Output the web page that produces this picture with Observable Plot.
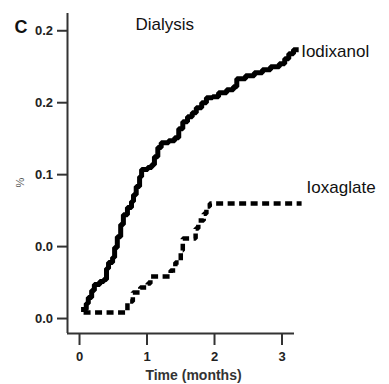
<!DOCTYPE html>
<html>
<head>
<meta charset="utf-8">
<script src="https://cdn.jsdelivr.net/npm/d3@7"></script>
<script src="https://cdn.jsdelivr.net/npm/@observablehq/plot@0.6"></script>
<style>
  html, body { margin: 0; padding: 0; background: #fff; }
  #chart { position: relative; width: 389px; height: 384px; }
</style>
</head>
<body>
<div id="chart"></div>
<script>
// ---- data ----
const iodixanolTime = [0.06,0.10,0.13,0.18,0.22,0.30,0.36,0.40,0.43,0.49,0.52,0.56,0.61,0.65,0.71,0.77,0.80,0.84,0.89,0.92,1.01,1.07,1.11,1.16,1.21,1.32,1.41,1.47,1.53,1.60,1.67,1.73,1.81,1.88,1.97,2.06,2.18,2.28,2.33,2.46,2.59,2.71,2.83,2.96,3.04,3.10,3.17,3.21];
const iodixanolValue = [0.0063,0.0104,0.0146,0.0194,0.0236,0.0257,0.0271,0.0347,0.0389,0.0424,0.0493,0.0569,0.0653,0.0722,0.0771,0.0813,0.0861,0.0917,0.0986,0.1035,0.1049,0.1069,0.1125,0.1188,0.1222,0.1236,0.1257,0.1319,0.1368,0.1403,0.1431,0.1465,0.1500,0.1535,0.1542,0.1569,0.1590,0.1611,0.1667,0.1688,0.1708,0.1729,0.1750,0.1771,0.1806,0.1840,0.1868,0.1868];
const ioxaglateTime = [0.06,0.71,0.79,0.90,1.01,1.05,1.35,1.42,1.50,1.53,1.72,1.76,1.84,1.88,1.93,3.29];
const ioxaglateValue = [0.0042,0.0118,0.0181,0.0215,0.0243,0.0292,0.0333,0.0389,0.0472,0.0556,0.0625,0.0681,0.0729,0.0778,0.0799,0.0799];
const seriesNames = ["Iodixanol", "Ioxaglate"];
const yTickValues = [0, 0.05, 0.10, 0.15, 0.20];
const yTickLabels = ["0.0", "0.0", "0.1", "0.2", "0.2"];
const xTickValues = [0, 1, 2, 3];
const xTickLabels = ["0", "1", "2", "3"];
const panelLetter = "C";
const panelTitle = "Dialysis";
const xLabel = "Time (months)";
const yLabel = "%";

const iodixanol = iodixanolTime.map((t, i) => ({t, v: iodixanolValue[i]}));
const ioxaglate = ioxaglateTime.map((t, i) => ({t, v: ioxaglateValue[i]}));
const xDomain = [-0.178, 3.185];
const yDomain = [-0.0104, 0.2120];

const font = "'Liberation Sans', Arial, Helvetica, sans-serif";

const plot = Plot.plot({
  width: 389,
  height: 384,
  marginLeft: 67,
  marginRight: 95,
  marginTop: 13,
  marginBottom: 51,
  style: {fontFamily: font, fontSize: "12px", color: "#222", background: "#fff", overflow: "visible"},
  x: {domain: xDomain},
  y: {domain: yDomain},
  marks: [
    // L-shaped axes
    Plot.ruleX([xDomain[0]], {y1: yDomain[0], y2: yDomain[1], stroke: "#333", strokeWidth: 2}),
    Plot.ruleY([yDomain[0]], {x1: xDomain[0], x2: xDomain[1], stroke: "#333", strokeWidth: 2}),
    Plot.axisY({ticks: yTickValues, tickFormat: () => "", tickSize: 10, strokeWidth: 2, stroke: "#333", label: null}),
    Plot.axisX({ticks: xTickValues, tickFormat: () => "", tickSize: 12, strokeWidth: 2, stroke: "#333", label: null}),
    // tick labels
    Plot.text(yTickValues, {x: () => xDomain[0], y: d => d, text: (d, i) => yTickLabels[i],
      textAnchor: "end", dx: -14.5, fontSize: 13, fontWeight: "bold", fill: "#222"}),
    Plot.text(xTickValues, {x: d => d, y: () => yDomain[0], text: (d, i) => xTickLabels[i],
      lineAnchor: "top", dy: 18, fontSize: 13, fontWeight: "bold", fill: "#222"}),
    // curves
    Plot.line(iodixanol, {x: "t", y: "v", curve: "step-after", stroke: "#000", strokeWidth: 5,
      strokeLinecap: "square", strokeLinejoin: "miter"}),
    Plot.line(ioxaglate, {x: "t", y: "v", curve: "step-after", stroke: "#000", strokeWidth: 4.5,
      strokeDasharray: "7,4.5", strokeLinecap: "butt", strokeLinejoin: "miter"}),
    // series labels
    Plot.text([iodixanol[iodixanol.length - 1]], {x: "t", y: "v", text: () => seriesNames[0],
      textAnchor: "start", dx: 5, dy: 2, fontSize: 17, fill: "#111"}),
    Plot.text([ioxaglate[ioxaglate.length - 1]], {x: "t", y: "v", text: () => seriesNames[1],
      textAnchor: "start", dx: 5, dy: -16, fontSize: 17, fill: "#111"}),
    // title texts
    Plot.text([panelTitle], {frameAnchor: "top-left", dx: 68, dy: 4, text: d => d, textAnchor: "start",
      lineAnchor: "top", fontSize: 17, fill: "#111"}),
    Plot.text([panelLetter], {frameAnchor: "top-left", dx: -53, dy: 7, text: d => d, textAnchor: "start",
      lineAnchor: "top", fontSize: 18, fontWeight: "bold", fill: "#111"}),
    Plot.text([xLabel], {frameAnchor: "bottom", dx: 12.5, dy: 37, text: d => d, textAnchor: "middle",
      lineAnchor: "top", fontSize: 14, fontWeight: "bold", fill: "#333"}),
    Plot.text([yLabel], {frameAnchor: "left", dx: -47, dy: 14, text: d => d, rotate: -90,
      fontSize: 11, fill: "#555"})
  ]
});
document.getElementById("chart").appendChild(plot);
</script>
</body>
</html>
